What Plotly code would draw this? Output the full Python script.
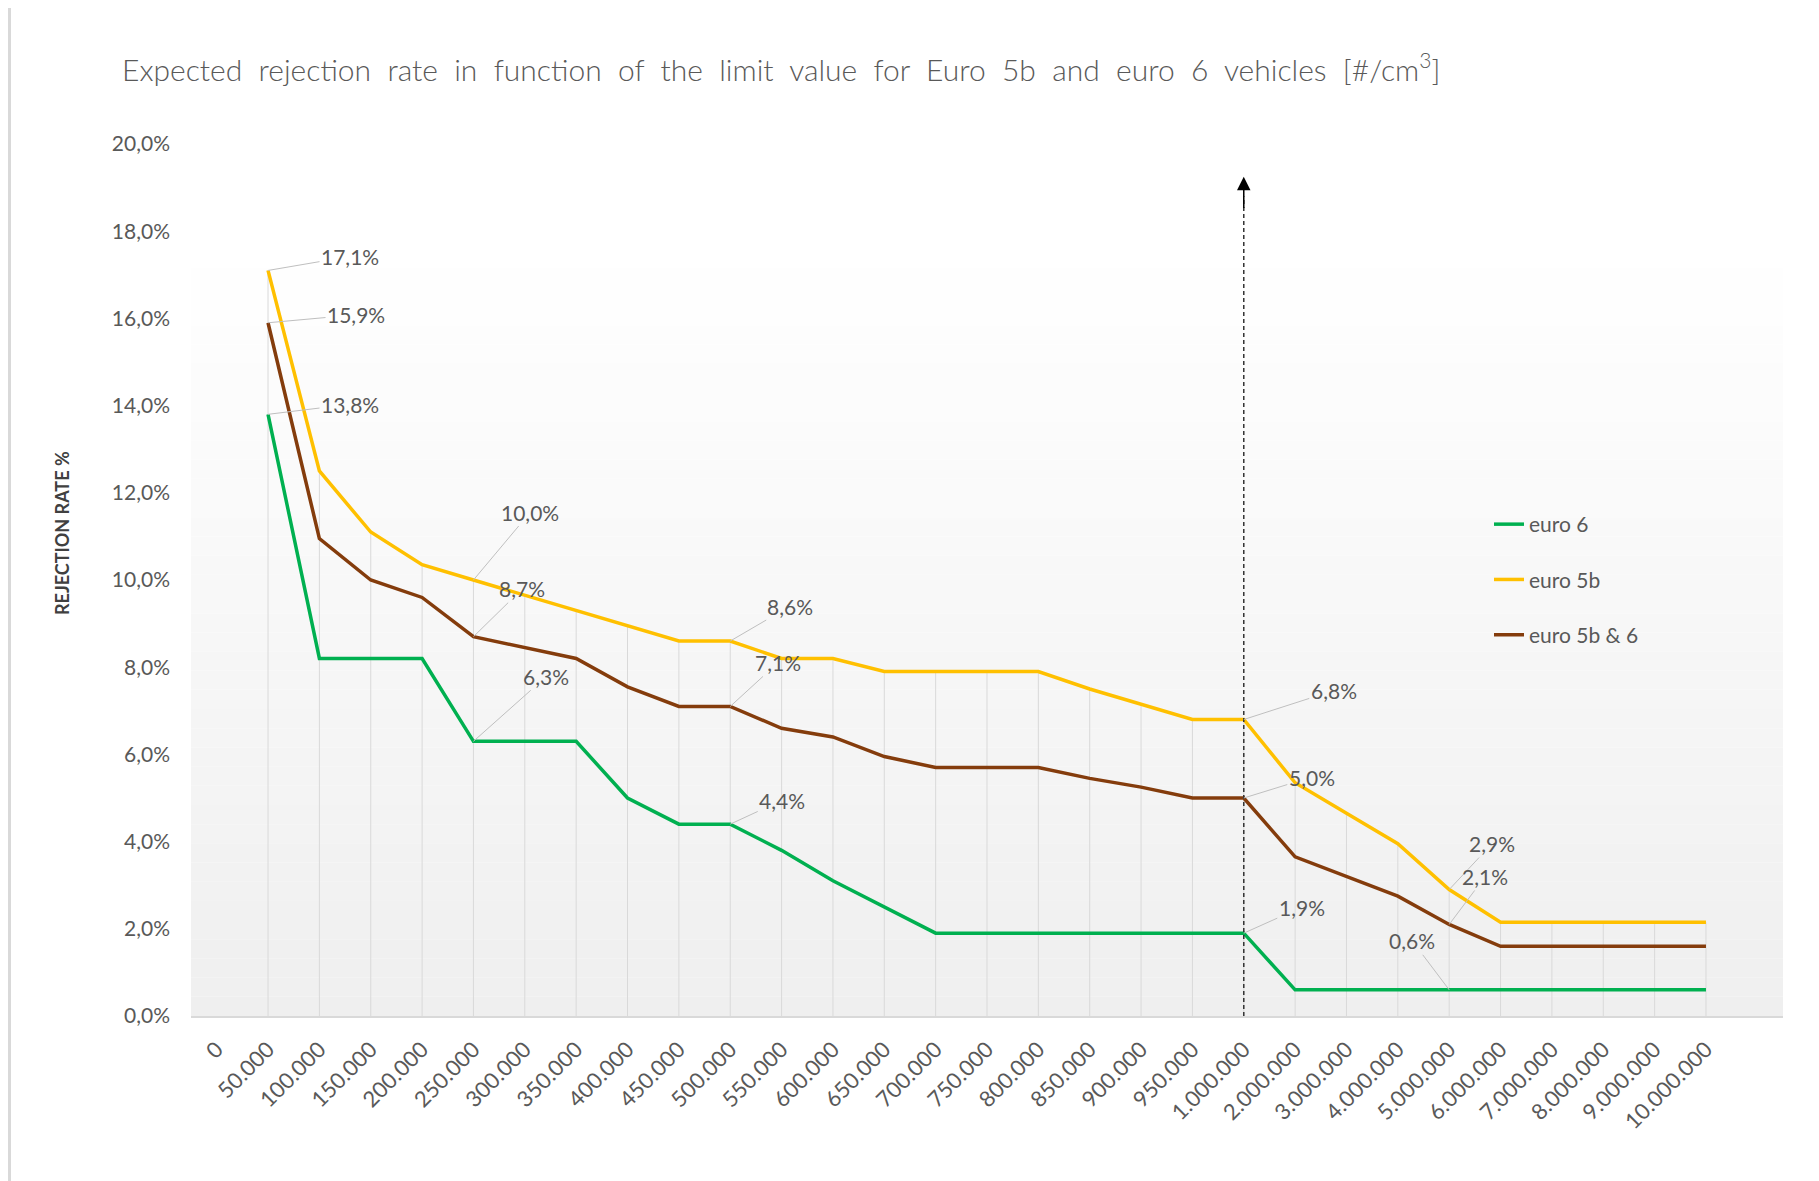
import plotly.graph_objects as go

# --- data -------------------------------------------------------------
categories = [
    "0", "50.000", "100.000", "150.000", "200.000", "250.000", "300.000",
    "350.000", "400.000", "450.000", "500.000", "550.000", "600.000",
    "650.000", "700.000", "750.000", "800.000", "850.000", "900.000",
    "950.000", "1.000.000", "2.000.000", "3.000.000", "4.000.000",
    "5.000.000", "6.000.000", "7.000.000", "8.000.000", "9.000.000",
    "10.000.000",
]

euro_6 = [None, 13.8, 8.2, 8.2, 8.2, 6.3, 6.3, 6.3, 5.0, 4.4, 4.4, 3.8, 3.1,
          2.5, 1.9, 1.9, 1.9, 1.9, 1.9, 1.9, 1.9, 0.6, 0.6, 0.6, 0.6, 0.6,
          0.6, 0.6, 0.6, 0.6]
euro_5b = [None, 17.1, 12.5, 11.1, 10.35, 10.0, 9.65, 9.3, 8.95, 8.6, 8.6,
           8.2, 8.2, 7.9, 7.9, 7.9, 7.9, 7.5, 7.15, 6.8, 6.8, 5.35, 4.65,
           3.95, 2.9, 2.15, 2.15, 2.15, 2.15, 2.15]
euro_5b_6 = [None, 15.9, 10.95, 10.0, 9.6, 8.7, 8.45, 8.2, 7.55, 7.1, 7.1,
             6.6, 6.4, 5.95, 5.7, 5.7, 5.7, 5.45, 5.25, 5.0, 5.0, 3.65, 3.2,
             2.75, 2.1, 1.6, 1.6, 1.6, 1.6, 1.6]

y_tickvals = [0, 2, 4, 6, 8, 10, 12, 14, 16, 18, 20]
y_ticktext = ["0,0%", "2,0%", "4,0%", "6,0%", "8,0%", "10,0%", "12,0%",
              "14,0%", "16,0%", "18,0%", "20,0%"]

limit_category = "1.000.000"

# --- styling ----------------------------------------------------------
# the page body adds 8px, so the figure is a bit smaller than the window
W, H = 1811, 1173
ML, MR, MT, MB = 183, 36, 136, 165
FONT = "Lato, 'Open Sans', sans-serif"
GREY_TXT = "#595959"

series = [
    ("euro 6", euro_6, "#00b050"),
    ("euro 5b", euro_5b, "#ffc000"),
    ("euro 5b & 6", euro_5b_6, "#843c0c"),
]

# (series, category, dx, dy) leader-line label offsets in px
label_spots = [
    (1, "50.000", 82, -14), (2, "50.000", 88, -8), (0, "50.000", 82, -10),
    (1, "250.000", 57, -68), (2, "250.000", 49, -48), (0, "250.000", 73, -65),
    (1, "500.000", 60, -35), (2, "500.000", 48, -44), (0, "500.000", 52, -24),
    (1, "1.000.000", 90, -29), (2, "1.000.000", 68, -21), (0, "1.000.000", 58, -26),
    (1, "5.000.000", 43, -46), (2, "5.000.000", 36, -48), (0, "5.000.000", -37, -49),
]

fig = go.Figure()

# drop lines from the highest series down to the axis
drop_x, drop_y = [], []
for i, c in enumerate(categories):
    vals = [s[1][i] for s in series if s[1][i] is not None]
    if vals:
        drop_x += [c, c, None]
        drop_y += [0, max(vals), None]
fig.add_trace(go.Scatter(x=drop_x, y=drop_y, mode="lines",
                         line=dict(color="#d9d9d9", width=1),
                         showlegend=False, hoverinfo="skip"))

for name, vals, col in series:
    fig.add_trace(go.Scatter(x=categories, y=vals, name=name, mode="lines",
                             line=dict(color=col, width=3.5),
                             legendgroup=name))

# gradient fill for plot area (white -> light grey)
shapes = []
n_bands = 40
top = 17.6
for b in range(n_bands):
    t = (b + 0.5) / n_bands
    g = round(255 - (255 - 239) * t)
    shapes.append(dict(type="rect", xref="paper", yref="y", layer="below",
                       x0=0, x1=1, y0=top * (1 - (b + 1) / n_bands),
                       y1=top * (1 - b / n_bands),
                       fillcolor=f"rgb({g},{g},{g})", line_width=0))

# limit marker
xi = categories.index(limit_category)
shapes.append(dict(type="line", xref="x", yref="y", x0=xi, x1=xi, y0=0, y1=18.8,
                   line=dict(color="#333333", width=1.5, dash="4px,3px")))

# outer border of the picture
pw, ph = W - ML - MR, H - MT - MB
shapes.append(dict(type="rect", xref="paper", yref="paper",
                   x0=(1.5 - ML) / pw, x1=(W - 3 - ML) / pw,
                   y0=-(MB + 20) / ph, y1=(H - MT - 1.5) / ph,
                   line=dict(color="#d9d9d9", width=3), fillcolor="rgba(0,0,0,0)"))

annotations = [
    dict(x=xi, y=19.25, ax=xi, ay=18.5, xref="x", yref="y", axref="x", ayref="y",
         text="", showarrow=True, arrowhead=2, arrowsize=1.8, arrowwidth=1.5,
         arrowcolor="#000000"),
    dict(text="REJECTION RATE %", textangle=-90, showarrow=False,
         xref="paper", yref="paper", xanchor="center", yanchor="middle",
         x=(54 - ML) / pw, y=(MT + ph - 525) / ph,
         font=dict(family=FONT, size=18, color="#404040", weight="bold")),
]
for si, cat, dx, dy in label_spots:
    ci = categories.index(cat)
    v = series[si][1][ci]
    annotations.append(dict(
        x=ci, y=v, ax=dx, ay=dy, text=f"{v:.1f}".replace(".", ",") + "%",
        showarrow=True, arrowhead=0, arrowwidth=1, arrowcolor="#bfbfbf",
        standoff=0, font=dict(family=FONT, size=21, color=GREY_TXT)))

fig.update_layout(
    width=W, height=H,
    margin=dict(l=ML, r=MR, t=MT, b=MB),
    paper_bgcolor="white", plot_bgcolor="rgba(0,0,0,0)",
    font=dict(family=FONT, color=GREY_TXT),
    title=dict(text="Expected  rejection  rate  in  function  of  the  limit  value  "
                    "for  Euro  5b  and  euro  6  vehicles  [#/cm<sup>3</sup>]",
               x=114 / W, xanchor="left", y=1 - 62 / H, yanchor="middle",
               font=dict(family=FONT, size=30, color=GREY_TXT, weight=300)),
    xaxis=dict(type="category", categoryorder="array", categoryarray=categories,
               range=[-0.5, 30.5], showgrid=False, showline=True,
               linecolor="#d9d9d9", linewidth=1.5, tickangle=-45, ticks="",
               ticklabelstandoff=10,
               tickfont=dict(family=FONT, size=22, color=GREY_TXT)),
    yaxis=dict(range=[0, 20], tickvals=y_tickvals, ticktext=y_ticktext,
               showgrid=False, zeroline=False, showline=False, ticks="",
               ticklabelstandoff=20,
               tickfont=dict(family=FONT, size=21, color=GREY_TXT)),
    legend=dict(x=(1481 - ML) / pw, xanchor="left", y=(MT + ph - 496) / ph,
                yanchor="top", tracegroupgap=25, bgcolor="rgba(0,0,0,0)",
                font=dict(family=FONT, size=21, color=GREY_TXT)),
    shapes=shapes,
    annotations=annotations,
)

fig.write_html("out.html")
